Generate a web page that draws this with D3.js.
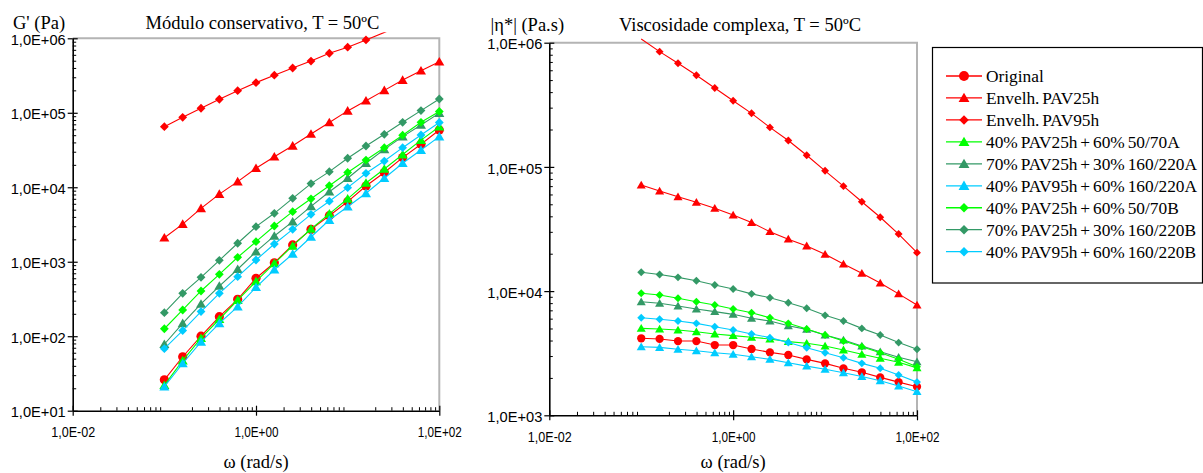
<!DOCTYPE html>
<html>
<head>
<meta charset="utf-8">
<script src="https://cdn.jsdelivr.net/npm/d3@7"></script>
<style>
  html, body { margin: 0; padding: 0; background: #fff; }
  svg { display: block; }
</style>
</head>
<body>
<svg id="chart" width="1203" height="473"></svg>
<script>
// Angular frequency (rad/s), shared by every series
const omega = [0.1, 0.1585, 0.2512, 0.3981, 0.631, 1, 1.585, 2.512, 3.981, 6.31, 10, 15.85, 25.12, 39.81, 63.1, 100];

const seriesNames = [
  "Original",
  "Envelh. PAV25h",
  "Envelh. PAV95h",
  "40% PAV25h + 60% 50/70A",
  "70% PAV25h + 30% 160/220A",
  "40% PAV95h + 60% 160/220A",
  "40% PAV25h + 60% 50/70B",
  "70% PAV25h + 30% 160/220B",
  "40% PAV95h + 60% 160/220B"
];

// Storage modulus G' (Pa)
const gOriginal = [26, 53, 100, 183, 313, 600, 970, 1680, 2720, 4150, 6400, 10400, 15800, 25000, 37800, 58800];
const gPav25    = [2100, 3200, 5200, 8100, 11900, 18000, 25700, 36000, 52000, 74000, 106000, 145000, 200000, 275000, 367000, 485000];
const gPav95    = [65000, 87000, 115000, 152000, 198000, 254000, 320000, 399000, 495000, 630000, 760000, 950000, 1200000, 1500000, 1850000, 2300000];
const gMix25A   = [22, 47, 94, 169, 306, 545, 950, 1630, 2750, 4400, 7000, 11400, 17600, 27500, 43000, 65000];
const gMix70A   = [78, 149, 271, 472, 793, 1365, 2220, 3450, 5550, 8700, 13200, 21000, 32300, 47800, 68600, 99000];
const gMix95A   = [21, 43, 84, 149, 249, 454, 780, 1270, 2150, 3630, 5480, 8300, 13200, 21000, 31600, 47800];
const gMix25B   = [126, 225, 405, 678, 1148, 1860, 3020, 4700, 7000, 10500, 15800, 23200, 34000, 50000, 74500, 104000];
const gMix70B   = [207, 377, 618, 1045, 1770, 2960, 4470, 7100, 11200, 16200, 24500, 35800, 51400, 74500, 107000, 153000];
const gMix95B   = [68, 119, 214, 377, 630, 1055, 1730, 2720, 4330, 6500, 9870, 15400, 22500, 34000, 50300, 74000];

// Complex viscosity |eta*| (Pa.s)
const etaOriginal = [4170, 4120, 3960, 3960, 3680, 3680, 3420, 3210, 3060, 2820, 2620, 2390, 2220, 2020, 1850, 1700];
const etaPav25    = [71500, 63900, 57500, 51900, 46400, 41000, 35600, 30100, 26200, 23100, 19800, 16500, 13900, 11600, 9500, 7730];
const etaPav95    = [1070000, 847000, 683000, 547000, 432000, 341000, 270000, 208000, 163000, 124000, 93000, 70000, 52400, 39300, 28800, 20400];
const etaMix25A   = [5010, 4950, 4860, 4710, 4520, 4380, 4250, 4120, 3920, 3800, 3610, 3360, 3100, 2880, 2670, 2410];
const etaMix70A   = [8200, 7980, 7590, 7180, 6830, 6500, 6040, 5740, 5260, 4920, 4430, 4040, 3610, 3250, 2930, 2700];
const etaMix95A   = [3560, 3520, 3400, 3310, 3190, 3100, 2960, 2820, 2650, 2490, 2350, 2200, 2050, 1900, 1720, 1550];
const etaMix25B   = [9600, 9300, 8750, 8200, 7730, 7180, 6700, 6100, 5500, 4950, 4430, 3960, 3570, 3190, 2830, 2460];
const etaMix70B   = [14200, 13600, 12900, 12100, 11200, 10400, 9500, 8850, 8070, 7270, 6380, 5740, 5010, 4430, 3850, 3400];
const etaMix95B   = [6100, 5930, 5740, 5500, 5170, 4860, 4520, 4220, 3850, 3500, 3190, 2910, 2620, 2390, 2110, 1850];

// Axis ticks
const xTicks = [1e-2, 1e0, 1e2];
const gTicks = [1e1, 1e2, 1e3, 1e4, 1e5, 1e6];
const etaTicks = [1e3, 1e4, 1e5, 1e6];

const gSeries = [gOriginal, gPav25, gPav95, gMix25A, gMix70A, gMix95A, gMix25B, gMix70B, gMix95B];
const etaSeries = [etaOriginal, etaPav25, etaPav95, etaMix25A, etaMix70A, etaMix95A, etaMix25B, etaMix70B, etaMix95B];

// Per-series appearance
const RED = "#ff0000", GREEN = "#00ff00", SEA = "#339966", SKY = "#00ccff";
const styles = [
  { color: RED,   shape: "circle" },
  { color: RED,   shape: "triangle" },
  { color: RED,   shape: "diamond" },
  { color: GREEN, shape: "triangle" },
  { color: SEA,   shape: "triangle" },
  { color: SKY,   shape: "triangle" },
  { color: GREEN, shape: "diamond" },
  { color: SEA,   shape: "diamond" },
  { color: SKY,   shape: "diamond" }
];

const svg = d3.select("#chart");
const SANS = "'Liberation Sans', Arial, sans-serif";
const SERIF = "'Liberation Serif', 'Times New Roman', serif";

function sciLabel(v) {
  const e = Math.round(Math.log10(v));
  const sign = e < 0 ? "-" : "+";
  return "1,0E" + sign + String(Math.abs(e)).padStart(2, "0");
}

function minorTicks(domain) {
  const out = [];
  const lo = Math.round(Math.log10(domain[0])), hi = Math.round(Math.log10(domain[1]));
  for (let e = lo; e < hi; e++) for (let m = 2; m <= 9; m++) out.push(m * Math.pow(10, e));
  return out;
}

function markerPath(shape, s) {
  if (shape === "circle") {
    const p = d3.path(); p.arc(0, 0, s, 0, 2 * Math.PI); p.closePath(); return p.toString();
  }
  if (shape === "triangle") {
    return `M0,${-s} L${s * 1.05},${s * 0.8} L${-s * 1.05},${s * 0.8} Z`;
  }
  return `M0,${-s} L${s},0 L0,${s} L${-s},0 Z`;
}

const markerSize = { circle: 4.6, triangle: 4.8, diamond: 4.4 };

function drawPanel(p) {
  const x = d3.scaleLog().domain([1e-2, 1e2]).range([p.x0, p.x1]);
  const y = d3.scaleLog().domain(p.yDomain).range([p.y1, p.y0]);
  const g = svg.append("g");

  // gray frame (top and right)
  g.append("path")
    .attr("d", `M${p.x0},${p.y0} H${p.x1} V${p.y1}`)
    .attr("fill", "none").attr("stroke", "#b4b4b4").attr("stroke-width", 2);

  // data
  const clipId = "clip-" + p.id;
  svg.append("clipPath").attr("id", clipId).append("rect")
    .attr("x", p.x0).attr("y", p.y0 - 6)
    .attr("width", p.x1 - p.x0 + 8).attr("height", p.y1 - p.y0 + 6);

  const line = d3.line().x(d => x(d[0])).y(d => y(d[1]));
  p.series.forEach((vals, i) => {
    const st = styles[i];
    const pts = omega.map((w, k) => [w, vals[k]]);
    g.append("path").datum(pts)
      .attr("d", line)
      .attr("clip-path", `url(#${clipId})`)
      .attr("fill", "none").attr("stroke", st.color).attr("stroke-width", 1.1);
    g.append("g").selectAll("path")
      .data(pts.filter(d => d[1] >= p.yDomain[0] && d[1] <= p.yDomain[1]))
      .join("path")
      .attr("transform", d => `translate(${x(d[0])},${y(d[1])})`)
      .attr("d", markerPath(st.shape, markerSize[st.shape] * p.mscale))
      .attr("fill", st.color);
  });

  // y axis: major ticks crossing, minor ticks inside
  const yAxis = g.append("g").attr("transform", `translate(${p.x0},0)`)
    .call(d3.axisLeft(y).tickValues(p.yTicks).tickFormat(sciLabel).tickSizeInner(5).tickSizeOuter(0).tickPadding(2));
  yAxis.select(".domain").attr("stroke", "#000").attr("stroke-width", 1.6);
  yAxis.selectAll(".tick line").attr("stroke", "#000").attr("stroke-width", 1.2);
  yAxis.selectAll(".tick text")
    .attr("font-family", SANS).attr("font-size", 15.5).attr("fill", "#000")
    .attr("dy", "0.4em")
    .attr("textLength", 55).attr("lengthAdjust", "spacingAndGlyphs");
  g.append("g").attr("transform", `translate(${p.x0},0)`)
    .call(d3.axisRight(y).tickValues(p.yTicks).tickFormat("").tickSizeInner(5).tickSizeOuter(0))
    .call(a => a.select(".domain").remove())
    .selectAll(".tick line").attr("stroke", "#000").attr("stroke-width", 1.2);
  g.append("g").attr("transform", `translate(${p.x0},0)`)
    .call(d3.axisRight(y).tickValues(minorTicks(p.yDomain)).tickFormat("").tickSizeInner(3.5).tickSizeOuter(0))
    .call(a => a.select(".domain").remove())
    .selectAll(".tick line").attr("stroke", "#000").attr("stroke-width", 1);

  // x axis
  const xAxis = g.append("g").attr("transform", `translate(0,${p.y1})`)
    .call(d3.axisBottom(x).tickValues(xTicks).tickFormat(sciLabel).tickSizeInner(5).tickSizeOuter(0).tickPadding(11));
  xAxis.select(".domain").attr("stroke", "#000").attr("stroke-width", 1.6);
  xAxis.selectAll(".tick line").attr("stroke", "#000").attr("stroke-width", 1.2);
  xAxis.selectAll(".tick text")
    .attr("font-family", SANS).attr("font-size", 15).attr("fill", "#000")
    .attr("textLength", 44).attr("lengthAdjust", "spacingAndGlyphs");
  g.append("g").attr("transform", `translate(0,${p.y1})`)
    .call(d3.axisTop(x).tickValues(xTicks).tickFormat("").tickSizeInner(5).tickSizeOuter(0))
    .call(a => a.select(".domain").remove())
    .selectAll(".tick line").attr("stroke", "#000").attr("stroke-width", 1.2);
  g.append("g").attr("transform", `translate(0,${p.y1})`)
    .call(d3.axisTop(x).tickValues(minorTicks([1e-2, 1e2])).tickFormat("").tickSizeInner(3.5).tickSizeOuter(0))
    .call(a => a.select(".domain").remove())
    .selectAll(".tick line").attr("stroke", "#000").attr("stroke-width", 1);

  // titles
  g.append("text").attr("x", p.titleX).attr("y", p.titleY)
    .attr("text-anchor", "middle").attr("font-family", SERIF).attr("font-size", 18.5)
    .text(p.title);
  g.append("text").attr("x", p.yLabelX).attr("y", p.titleY)
    .attr("font-family", SERIF).attr("font-size", 18.5)
    .text(p.yLabel);
  g.append("text").attr("x", x(1)).attr("y", 468)
    .attr("text-anchor", "middle").attr("font-family", SERIF).attr("font-size", 18.5)
    .text("ω (rad/s)");
}

drawPanel({
  id: "g", series: gSeries, yDomain: [1e1, 1e6], yTicks: gTicks,
  x0: 72.7, x1: 439.3, y0: 38.3, y1: 410.7, mscale: 1,
  title: "Módulo conservativo, T = 50ºC", titleX: 262.5, titleY: 29,
  yLabel: "G' (Pa)", yLabelX: 13
});

drawPanel({
  id: "eta", series: etaSeries, yDomain: [1e3, 1e6], yTicks: etaTicks,
  x0: 549.3, x1: 917, y0: 42.7, y1: 415.3, mscale: 0.9,
  title: "Viscosidade complexa, T = 50ºC", titleX: 740, titleY: 31,
  yLabel: "|η*| (Pa.s)", yLabelX: 490.5
});

// legend
const lg = svg.append("g");
lg.append("rect").attr("x", 932.5).attr("y", 47.5).attr("width", 270).attr("height", 235.5)
  .attr("fill", "#fff").attr("stroke", "#000").attr("stroke-width", 1.2);
const legendTexts = [];
seriesNames.forEach((name, i) => {
  const st = styles[i];
  const cy = 76 + i * 21.96;
  lg.append("line").attr("x1", 946).attr("x2", 982).attr("y1", cy).attr("y2", cy)
    .attr("stroke", st.color).attr("stroke-width", 1.3);
  lg.append("path").attr("transform", `translate(964,${cy})`)
    .attr("d", markerPath(st.shape, markerSize[st.shape] * 1.08))
    .attr("fill", st.color);
  legendTexts.push(lg.append("text").attr("x", 986).attr("y", cy + 6)
    .attr("font-family", SERIF).attr("font-size", 17.5).attr("word-spacing", -1.5).text(name));
});
// keep the longest entry inside the box, condensing all entries by the same factor
const natural = legendTexts.map(t => t.node().getComputedTextLength());
const fit = Math.min(1, 211 / d3.max(natural));
legendTexts.forEach((t, i) => {
  t.attr("textLength", natural[i] * fit).attr("lengthAdjust", "spacingAndGlyphs");
});
</script>
</body>
</html>
